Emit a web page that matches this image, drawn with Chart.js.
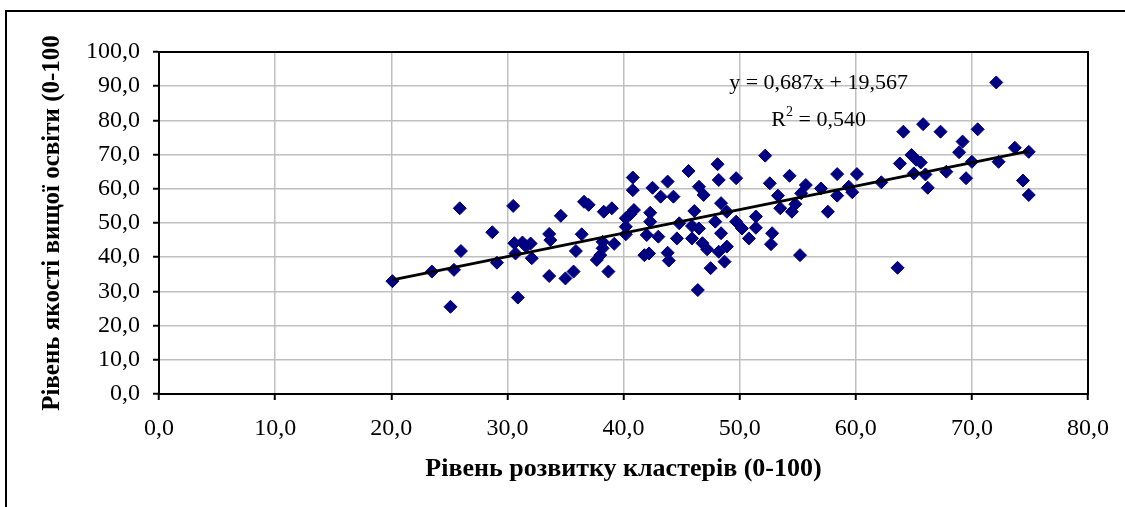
<!DOCTYPE html>
<html>
<head>
<meta charset="utf-8">
<script src="https://cdn.jsdelivr.net/npm/chart.js@4.4.1/dist/chart.umd.min.js"></script>
<style>
html, body { margin: 0; padding: 0; background: #fff; overflow: hidden; }
</style>
</head>
<body>
<canvas id="chart" width="1125" height="507"></canvas>
<script>
// points
const clusterLevel = [
    20.1, 23.5, 25.4, 25.1, 25.9, 26.0, 28.7, 29.1, 30.5, 30.6,
    30.7, 31.3, 32.0, 31.6, 32.1, 30.9, 33.6, 33.6, 33.7, 34.6,
    35.0, 35.7, 35.9, 36.4, 36.6, 37.0, 37.7, 38.0, 38.2, 38.2,
    38.3, 38.7, 39.0, 39.2, 40.2, 40.2, 40.2, 40.6, 40.9, 40.8,
    40.8, 41.8, 42.2, 42.0, 42.3, 42.3, 42.5, 43.0, 43.2, 43.8,
    43.9, 43.8, 44.3, 44.6, 44.8, 45.6, 45.9, 45.9, 46.1, 46.4,
    46.5, 46.5, 46.8, 46.9, 47.2, 47.5, 47.9, 48.1, 48.2, 48.2,
    48.4, 48.4, 48.7, 48.9, 48.9, 49.7, 49.7, 50.2, 50.8, 51.4,
    51.4, 52.2, 52.6, 52.7, 52.8, 53.3, 53.5, 54.3, 54.5, 54.8,
    55.2, 55.3, 55.7, 57.0, 57.6, 58.4, 58.4, 59.4, 59.7, 60.1,
    62.2, 63.6, 63.8, 64.1, 64.8, 65.2, 65.6, 65.0, 66.0, 65.8,
    66.2, 67.3, 67.8, 68.9, 69.2, 69.5, 70.0, 70.5, 72.1, 72.3,
    73.7, 74.9, 74.4, 74.9
];
const eduQuality = [
    33.0, 35.8, 36.3, 25.5, 54.3, 41.8, 47.3, 38.4, 55.0, 44.1,
    41.1, 44.3, 44.0, 43.2, 39.7, 28.2, 34.5, 46.8, 45.0, 52.1,
    33.8, 35.8, 41.8, 46.7, 56.2, 55.3, 39.2, 40.6, 42.6, 44.5,
    53.3, 35.8, 54.3, 43.9, 46.7, 48.9, 51.4, 52.6, 53.8, 59.6,
    63.3, 40.6, 41.1, 46.5, 50.4, 53.0, 60.3, 46.0, 57.7, 41.3,
    39.0, 62.1, 57.7, 45.5, 49.9, 65.2, 45.5, 49.1, 53.5, 30.4,
    48.4, 60.6, 44.1, 58.2, 42.3, 36.8, 50.4, 67.2, 62.6, 41.6,
    47.0, 55.8, 38.7, 43.1, 53.3, 50.4, 63.1, 48.4, 45.5, 48.6,
    51.9, 69.7, 61.6, 43.8, 47.0, 58.0, 54.3, 63.8, 53.3, 55.5,
    40.6, 58.7, 61.1, 60.1, 53.3, 58.0, 64.3, 60.6, 59.0, 64.3,
    61.9, 36.9, 67.4, 76.7, 69.9, 68.5, 67.7, 64.5, 64.2, 78.9,
    60.3, 76.7, 65.0, 70.7, 73.8, 63.1, 67.9, 77.4, 91.1, 67.9,
    72.0, 70.8, 62.4, 58.2
];

// trend line from the equation printed on the chart
const slope = 0.687;
const intercept = 19.567;
const eqLabel = 'y = 0,687x + 19,567';
const r2Label = ' = 0,540';

const xTitle = 'Рівень розвитку кластерів (0-100)';
const yTitle = 'Рівень якості вищої освіти (0-100';

const serif = '"Liberation Serif", "Times New Roman", serif';

function fmt(v) {
    return v.toFixed(1).replace('.', ',');
}

let points = clusterLevel.map((x, i) => ({x: x, y: eduQuality[i]}));
let xMin = Math.min(...clusterLevel);
let xMax = Math.max(...clusterLevel);
let trend = [xMin, xMax].map(x => ({x: x, y: slope * x + intercept}));

const decor = {
    id: 'decor',
    beforeDraw(chart) {
        let ctx = chart.ctx;
        ctx.save();
        ctx.fillStyle = '#fff';
        ctx.fillRect(0, 0, chart.width, chart.height);
        ctx.strokeStyle = '#000';
        ctx.lineWidth = 2;
        ctx.strokeRect(6, 11, 1400, 800);
        ctx.restore();
    },
    beforeDatasetsDraw(chart) {
        let {ctx, chartArea: a} = chart;
        ctx.save();
        ctx.strokeStyle = '#000';
        ctx.lineWidth = 2;
        ctx.strokeRect(a.left, a.top, a.right - a.left, a.bottom - a.top);
        ctx.restore();
    },
    afterDatasetsDraw(chart) {
        let ctx = chart.ctx;
        let sx = chart.scales.x, sy = chart.scales.y;
        let cx = sx.getPixelForValue(56.8);
        ctx.save();
        ctx.fillStyle = '#000';
        ctx.textBaseline = 'middle';
        ctx.font = '22px ' + serif;
        ctx.textAlign = 'center';
        ctx.fillText(eqLabel, cx, sy.getPixelForValue(90.9));

        // R² line with a real superscript
        let y2 = sy.getPixelForValue(80.1);
        ctx.textAlign = 'left';
        let wR = ctx.measureText('R').width;
        let wRest = ctx.measureText(r2Label).width;
        ctx.font = '14px ' + serif;
        let wSup = ctx.measureText('2').width;
        let left = cx - (wR + wSup + wRest) / 2;
        ctx.font = '22px ' + serif;
        ctx.fillText('R', left, y2);
        ctx.font = '14px ' + serif;
        ctx.fillText('2', left + wR, y2 - 8);
        ctx.font = '22px ' + serif;
        ctx.fillText(r2Label, left + wR + wSup, y2);
        ctx.restore();
    }
};

new Chart(document.getElementById('chart').getContext('2d'), {
    type: 'scatter',
    data: {
        datasets: [
            {
                label: 'data',
                data: points,
                pointStyle: 'rectRot',
                pointRadius: 6.5,
                backgroundColor: '#000080',
                borderColor: '#000080',
                borderWidth: 1,
                order: 2
            },
            {
                label: 'trend',
                type: 'line',
                data: trend,
                borderColor: '#000',
                borderWidth: 3,
                pointRadius: 0,
                fill: false,
                order: 1
            }
        ]
    },
    options: {
        responsive: false,
        animation: false,
        layout: {padding: {top: 52, right: 37, left: 0, bottom: 0}},
        plugins: {legend: {display: false}, tooltip: {enabled: false}},
        scales: {
            x: {
                type: 'linear',
                min: 0,
                max: 80,
                ticks: {
                    stepSize: 10,
                    autoSkip: false,
                    maxRotation: 0,
                    padding: 14,
                    color: '#000',
                    font: {family: serif, size: 24},
                    callback: v => fmt(v)
                },
                grid: {color: '#bfbfbf', lineWidth: 1.5, tickColor: '#000', tickLength: 6, tickWidth: 2},
                border: {color: '#000', width: 2},
                title: {
                    display: true,
                    text: xTitle,
                    color: '#000',
                    font: {family: serif, size: 26, weight: 'bold'},
                    padding: {top: 0, bottom: 22}
                },
                afterFit: s => { s.height = 113; }
            },
            y: {
                type: 'linear',
                min: 0,
                max: 100,
                ticks: {
                    stepSize: 10,
                    autoSkip: false,
                    padding: 13,
                    color: '#000',
                    font: {family: serif, size: 24},
                    callback: v => fmt(v)
                },
                grid: {color: '#bfbfbf', lineWidth: 1.5, tickColor: '#000', tickLength: 6, tickWidth: 2},
                border: {color: '#000', width: 2},
                title: {
                    display: true,
                    text: yTitle,
                    color: '#000',
                    font: {family: serif, size: 25, weight: 'bold'},
                    padding: {top: 38, bottom: 0}
                },
                afterFit: s => { s.width = 159; }
            }
        }
    },
    plugins: [decor]
});
</script>
</body>
</html>
